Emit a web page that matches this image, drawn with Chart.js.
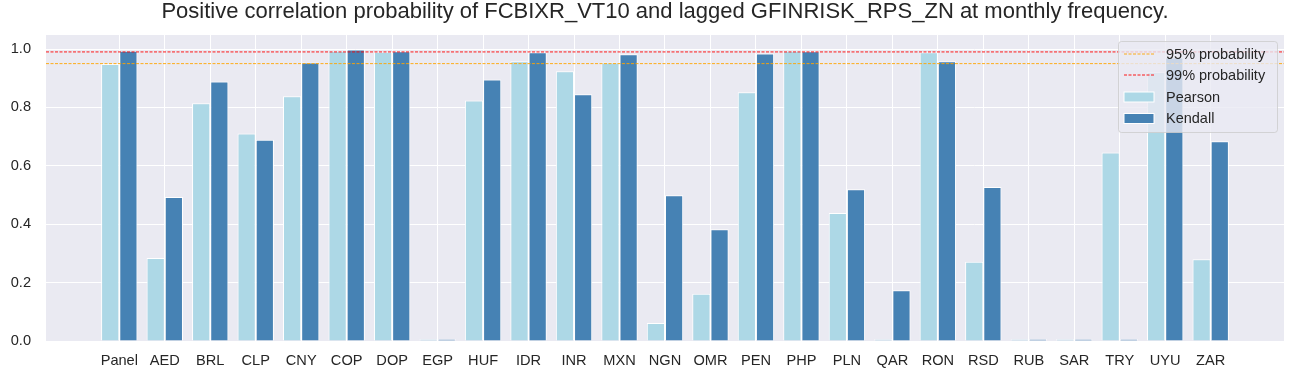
<!DOCTYPE html>
<html>
<head>
<meta charset="utf-8">
<script src="https://cdn.jsdelivr.net/npm/chart.js@4.4.1/dist/chart.umd.min.js"></script>
<style>
  html, body { margin: 0; padding: 0; background: #ffffff; }
  #wrap { width: 1294px; height: 379px; }
</style>
</head>
<body>
<div id="wrap"><canvas id="c" width="1294" height="379"></canvas></div>
<script>
const titleText = 'Positive correlation probability of FCBIXR_VT10 and lagged GFINRISK_RPS_ZN at monthly frequency.';
const categories = ['Panel','AED','BRL','CLP','CNY','COP','DOP','EGP','HUF','IDR','INR','MXN','NGN','OMR','PEN','PHP','PLN','QAR','RON','RSD','RUB','SAR','TRY','UYU','ZAR'];
const pearson = [0.949,0.284,0.814,0.711,0.838,0.994,0.991,0.006,0.824,0.958,0.924,0.954,0.062,0.162,0.852,0.994,0.438,0.006,0.989,0.271,0.006,0.006,0.646,0.921,0.280];
const kendall = [0.994,0.493,0.889,0.689,0.954,0.998,0.992,0.006,0.896,0.989,0.845,0.982,0.499,0.383,0.985,0.992,0.520,0.174,0.958,0.527,0.006,0.006,0.006,0.971,0.684];
const thresholds = [0.95, 0.99];
const thresholdLabels = ['95% probability', '99% probability'];
const yTicks = [0.0, 0.2, 0.4, 0.6, 0.8, 1.0];

const X_MIN = -1.612, X_MAX = categories.length - 1 + 1.612;
const Y_MAX = 1.048;
const FONT = '"Liberation Sans", Arial, sans-serif';
const TEXT = '#262626';
const PEARSON_COLOR = '#ADD8E6';
const KENDALL_COLOR = '#4682B4';
const LINE_COLORS = ['orange', 'red'];

const bgPlugin = {
  id: 'plotBg',
  beforeDraw(chart) {
    const {ctx, chartArea: a} = chart;
    ctx.save();
    ctx.fillStyle = '#EAEAF2';
    ctx.fillRect(a.left, a.top, a.right - a.left, a.bottom - a.top);
    ctx.restore();
  }
};

const legendPlugin = {
  id: 'floatLegend',
  afterDraw(chart) {
    const ctx = chart.ctx;
    const x0 = 1118.5, y0 = 41.5, w = 159, h = 91, r = 3;
    ctx.save();
    ctx.beginPath();
    ctx.moveTo(x0 + r, y0);
    ctx.arcTo(x0 + w, y0, x0 + w, y0 + h, r);
    ctx.arcTo(x0 + w, y0 + h, x0, y0 + h, r);
    ctx.arcTo(x0, y0 + h, x0, y0, r);
    ctx.arcTo(x0, y0, x0 + w, y0, r);
    ctx.closePath();
    ctx.fillStyle = 'rgba(234,234,242,0.8)';
    ctx.fill();
    ctx.strokeStyle = 'rgba(204,204,204,0.8)';
    ctx.lineWidth = 1;
    ctx.stroke();

    const rows = [54, 75, 97, 118.5];
    const ds = chart.data.datasets;
    const items = [ds[2], ds[3], ds[0], ds[1]];
    ctx.font = '14.5px ' + FONT;
    ctx.textBaseline = 'middle';
    ctx.textAlign = 'left';
    items.forEach((d, i) => {
      const yc = rows[i];
      if (d.type === 'line') {
        ctx.beginPath();
        ctx.setLineDash([3, 1.5]);
        ctx.strokeStyle = d.borderColor;
        ctx.lineWidth = 0.9;
        ctx.moveTo(1124, yc);
        ctx.lineTo(1154, yc);
        ctx.stroke();
        ctx.setLineDash([]);
      } else {
        ctx.fillStyle = d.backgroundColor;
        ctx.fillRect(1124, yc - 5, 30, 10);
        ctx.strokeStyle = '#ffffff';
        ctx.lineWidth = 1;
        ctx.strokeRect(1124, yc - 5, 30, 10);
      }
      ctx.fillStyle = TEXT;
      ctx.fillText(d.label, 1166, yc + 0.5);
    });
    ctx.restore();
  }
};

const barData = (vals) => vals.map((y, i) => ({x: i, y}));
const lineData = (v) => [{x: X_MIN, y: v}, {x: X_MAX, y: v}];

new Chart(document.getElementById('c'), {
  type: 'bar',
  data: {
    datasets: [
      {label: 'Pearson', data: barData(pearson), backgroundColor: PEARSON_COLOR, borderColor: '#ffffff', borderWidth: 1, borderSkipped: 'start', categoryPercentage: 0.8, barPercentage: 1.0, order: 2},
      {label: 'Kendall', data: barData(kendall), backgroundColor: KENDALL_COLOR, borderColor: '#ffffff', borderWidth: 1, borderSkipped: 'start', categoryPercentage: 0.8, barPercentage: 1.0, order: 2},
      {type: 'line', label: thresholdLabels[0], data: lineData(thresholds[0]), borderColor: LINE_COLORS[0], borderWidth: 0.9, borderDash: [3, 1.5], pointRadius: 0, fill: false, order: 1},
      {type: 'line', label: thresholdLabels[1], data: lineData(thresholds[1]), borderColor: LINE_COLORS[1], borderWidth: 0.9, borderDash: [3, 1.5], pointRadius: 0, fill: false, order: 1}
    ]
  },
  options: {
    responsive: false,
    animation: false,
    devicePixelRatio: 1,
    layout: {padding: {left: 0, right: 10, top: 0, bottom: 0}},
    plugins: {
      legend: {display: false},
      tooltip: {enabled: false},
      title: {
        display: true,
        text: titleText,
        fullSize: false,
        color: TEXT,
        font: {family: FONT, size: 22, weight: 'normal', lineHeight: 1.1},
        padding: {top: 0, bottom: 10.8}
      }
    },
    scales: {
      x: {
        type: 'linear',
        offset: false,
        min: X_MIN,
        max: X_MAX,
        afterBuildTicks(scale) { scale.ticks = categories.map((c, i) => ({value: i})); },
        afterFit(scale) { scale.height = 38; },
        ticks: {
          autoSkip: false, maxRotation: 0, minRotation: 0,
          color: TEXT, padding: 11,
          font: {family: FONT, size: 14.6},
          callback: (v) => categories[v]
        },
        grid: {color: '#ffffff', lineWidth: 1, drawTicks: false, offset: false},
        border: {display: false}
      },
      y: {
        type: 'linear',
        min: 0,
        max: Y_MAX,
        afterBuildTicks(scale) { scale.ticks = yTicks.map(v => ({value: v})); },
        afterFit(scale) { scale.width = 46; },
        ticks: {
          color: TEXT, padding: 15,
          font: {family: FONT, size: 14.6},
          callback: (v) => Number(v).toFixed(1)
        },
        grid: {color: '#ffffff', lineWidth: 1, drawTicks: false},
        border: {display: false}
      }
    }
  },
  plugins: [bgPlugin, legendPlugin]
});
</script>
</body>
</html>
